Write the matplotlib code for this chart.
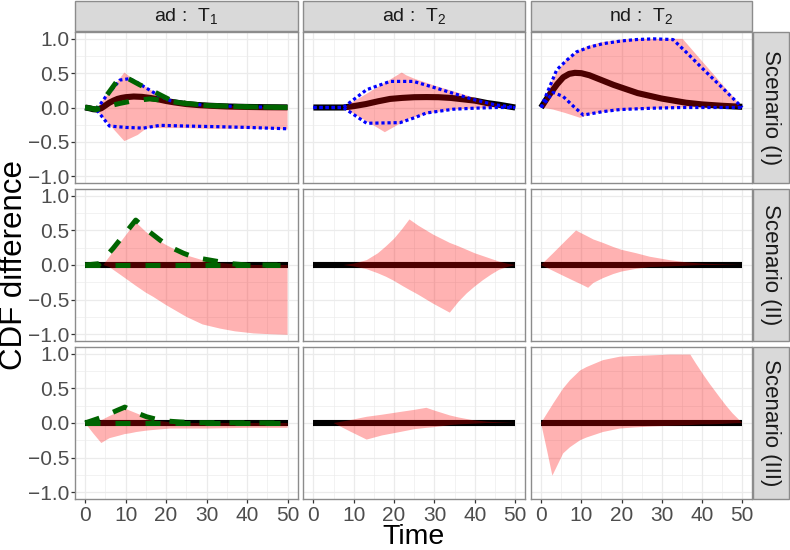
import matplotlib
matplotlib.use('Agg')
import matplotlib.pyplot as plt
from matplotlib.patches import Rectangle

plt.rcParams['font.family'] = ['Liberation Sans', 'DejaVu Sans']
plt.rcParams['mathtext.fontset'] = 'custom'
plt.rcParams['mathtext.rm'] = 'Liberation Sans'
plt.rcParams['mathtext.it'] = 'Liberation Sans:italic'
plt.rcParams['mathtext.bf'] = 'Liberation Sans:bold'

# ---------------- labels ----------------
col_labels = ['ad :  T$_1$', 'ad :  T$_2$', 'nd :  T$_2$']
row_labels = ['Scenario (I)', 'Scenario (II)', 'Scenario (III)']
x_ticks = [0, 10, 20, 30, 40, 50]
y_ticks = [-1.0, -0.5, 0.0, 0.5, 1.0]
y_tick_labels = ['\u22121.0', '\u22120.5', '0.0', '0.5', '1.0']
x_label = 'Time'
y_label = 'CDF difference'

# ---------------- Scenario (I), ad:T1 ----------------
s1_adT1_true_t = [0, 1, 2, 3, 4, 5, 6, 7, 8, 9, 10, 12, 14, 16, 18, 20, 22, 25, 28, 31, 35, 40, 45, 50]
s1_adT1_true_v = [0, -0.01, -0.025, -0.03, -0.01, 0.03, 0.07, 0.10, 0.125, 0.14, 0.15, 0.16, 0.155,
                  0.14, 0.12, 0.095, 0.075, 0.05, 0.035, 0.025, 0.015, 0.008, 0.004, 0.002]
s1_adT1_green_hi_t = [0, 1.5, 2.8, 5, 8.2, 9.6, 11, 13.5, 16, 21, 25, 30, 40, 50]
s1_adT1_green_hi_v = [0, -0.01, -0.03, 0.15, 0.41, 0.44, 0.41, 0.33, 0.26, 0.11, 0.06, 0.03, 0.01, 0]
s1_adT1_green_lo_t = [0, 2.8, 5, 8.6, 12, 16, 20, 25, 30, 40, 50]
s1_adT1_green_lo_v = [0, -0.03, 0.01, 0.06, 0.10, 0.125, 0.10, 0.055, 0.03, 0.01, 0]
s1_adT1_blue_hi_t = [0, 2.8, 5, 8.6, 11, 13, 15.2, 18, 21, 25, 30, 40, 50]
s1_adT1_blue_hi_v = [0, -0.03, 0.15, 0.40, 0.42, 0.36, 0.28, 0.18, 0.10, 0.06, 0.03, 0.01, 0]
s1_adT1_blue_lo_t = [0, 2.8, 6, 10, 14.4, 18.5, 25, 33, 40, 50]
s1_adT1_blue_lo_v = [0, -0.03, -0.27, -0.29, -0.30, -0.26, -0.27, -0.28, -0.29, -0.31]
s1_adT1_band_t = [0, 2.8, 9.7, 13, 15, 16, 20, 25, 30, 40, 50]
s1_adT1_band_hi = [0, -0.02, 0.51, 0.36, 0.30, 0.26, 0.14, 0.07, 0.04, 0.015, 0]
s1_adT1_band_lo = [0, -0.04, -0.49, -0.40, -0.31, -0.30, -0.30, -0.30, -0.31, -0.31, -0.32]

# ---------------- Scenario (I), ad:T2 ----------------
s1_adT2_true_t = [0, 7.4, 10, 13, 16, 19, 22, 25, 28, 31, 34, 37, 40, 43, 46, 50]
s1_adT2_true_v = [0, 0, 0.02, 0.05, 0.09, 0.125, 0.14, 0.15, 0.152, 0.15, 0.14, 0.12, 0.10, 0.065, 0.04, 0]
s1_adT2_blue_hi_t = [0, 7.4, 13.2, 19, 24.8, 30, 35, 40, 45, 50]
s1_adT2_blue_hi_v = [0, 0, 0.26, 0.38, 0.38, 0.29, 0.20, 0.11, 0.04, 0]
s1_adT2_blue_lo_t = [0, 7.4, 13.2, 21.5, 25, 28, 34.7, 40, 45, 50]
s1_adT2_blue_lo_v = [0, 0, -0.23, -0.22, -0.15, -0.08, -0.025, -0.01, 0, 0]
s1_adT2_band_t = [0, 7.4, 13.2, 17.7, 21.9, 23, 25, 30, 35, 40, 45, 50]
s1_adT2_band_hi = [0, 0, 0.20, 0.36, 0.51, 0.47, 0.42, 0.32, 0.23, 0.14, 0.06, 0]
s1_adT2_band_lo = [0, 0, -0.20, -0.36, -0.22, -0.18, -0.14, -0.07, -0.03, -0.01, 0, 0]

# ---------------- Scenario (I), nd:T2 ----------------
s1_ndT2_true_t = [0, 1, 2, 3, 4, 5.5, 7, 8.4, 10, 12, 15, 18, 21, 24, 27, 30, 33, 36, 40, 45, 50]
s1_ndT2_true_v = [0, 0.09, 0.18, 0.26, 0.34, 0.44, 0.49, 0.505, 0.50, 0.47, 0.40, 0.33, 0.27, 0.21,
                  0.17, 0.13, 0.10, 0.07, 0.045, 0.025, 0.01]
s1_ndT2_blue_hi_t = [0, 3.9, 6.4, 8.8, 12, 15.4, 20, 23.7, 28, 32.8, 36, 40, 45, 50]
s1_ndT2_blue_hi_v = [0, 0.55, 0.69, 0.81, 0.88, 0.93, 0.97, 0.99, 1.0, 0.99, 0.81, 0.575, 0.29, 0]
s1_ndT2_blue_lo_t = [0, 3, 5.5, 8, 10.5, 15.4, 19.6, 27.8, 35, 50]
s1_ndT2_blue_lo_v = [0, 0.22, 0.16, 0.02, -0.11, -0.06, -0.03, -0.01, 0, 0]
s1_ndT2_band_t = [0, 3, 6, 9.7, 12, 15, 20, 25, 30, 35.2, 40, 45, 50]
s1_ndT2_band_hi = [0, 0.42, 0.68, 0.84, 0.90, 0.95, 0.99, 1.0, 1.0, 1.0, 0.675, 0.34, 0]
s1_ndT2_band_lo = [0, -0.03, -0.08, -0.15, -0.10, -0.07, -0.04, -0.02, -0.01, 0, 0, 0, 0]

# ---------------- Scenario (II), ad:T1 ----------------
s2_adT1_green_hi_t = [0, 3.6, 6.9, 9.5, 12.5, 15, 18.5, 21, 24.3, 27, 30.9, 35.8, 40, 50]
s2_adT1_green_hi_v = [0, 0.02, 0.24, 0.43, 0.65, 0.52, 0.36, 0.26, 0.17, 0.11, 0.07, 0.02, 0, 0]
s2_adT1_band_t = [0, 4.5, 6, 9.4, 12.5, 15, 16.8, 20, 25, 29, 33.3, 37, 41.6, 45, 50]
s2_adT1_band_hi = [0, 0, 0.12, 0.38, 0.62, 0.48, 0.40, 0.29, 0.14, 0.07, 0.03, 0.01, 0, 0, 0]
s2_adT1_band_lo = [0, 0, -0.03, -0.17, -0.30, -0.40, -0.46, -0.58, -0.75, -0.86, -0.92, -0.96, -0.99, -1.0, -1.01]

# ---------------- Scenario (II), ad:T2 ----------------
s2_adT2_band_t = [0, 7.4, 10, 13.2, 16, 18, 20, 22, 23.8, 26, 29.7, 33.8, 36, 38, 40, 42, 44, 46, 48, 50]
s2_adT2_band_hi = [0, 0, 0.02, 0.07, 0.17, 0.27, 0.38, 0.52, 0.66, 0.57, 0.44, 0.32, 0.27, 0.22,
                   0.17, 0.13, 0.09, 0.05, 0.02, 0]
s2_adT2_band_lo = [0, 0, -0.02, -0.06, -0.12, -0.17, -0.23, -0.30, -0.36, -0.43, -0.56, -0.69, -0.53,
                   -0.41, -0.31, -0.22, -0.14, -0.07, -0.03, 0]

# ---------------- Scenario (II), nd:T2 ----------------
s2_ndT2_band_t = [0, 3, 6, 8.7, 10, 11.7, 13, 15.4, 18, 20, 23.7, 27, 32, 36, 40, 45, 50]
s2_ndT2_band_hi = [0, 0.17, 0.345, 0.50, 0.46, 0.41, 0.37, 0.32, 0.26, 0.22, 0.17, 0.12, 0.07, 0.04, 0.02, 0.01, 0]
s2_ndT2_band_lo = [0, -0.085, -0.17, -0.245, -0.28, -0.33, -0.26, -0.19, -0.13, -0.095, -0.055, -0.03,
                   -0.02, -0.01, 0, 0, 0]

# ---------------- Scenario (III), ad:T1 ----------------
s3_adT1_green_hi_t = [0, 4, 7.8, 9.8, 11.5, 13, 15.2, 18.5, 21, 23.4, 27, 50]
s3_adT1_green_hi_v = [0, 0.08, 0.18, 0.23, 0.18, 0.14, 0.09, 0.04, 0.025, 0.015, 0.005, 0]
s3_adT1_band_t = [0, 2, 4, 6, 8.6, 9.8, 11, 12.7, 15.2, 17, 21, 25, 30, 40, 50]
s3_adT1_band_hi = [0, 0, 0.04, 0.10, 0.17, 0.21, 0.18, 0.14, 0.08, 0.04, 0.01, 0, 0, 0, 0]
s3_adT1_band_lo = [0, -0.15, -0.29, -0.22, -0.18, -0.16, -0.15, -0.13, -0.11, -0.10, -0.08, -0.08,
                   -0.08, -0.07, -0.07]

# ---------------- Scenario (III), ad:T2 ----------------
s3_adT2_band_t = [0, 5, 9, 13.2, 17, 21.5, 25, 28, 30, 33.8, 36, 39.6, 43, 46, 50]
s3_adT2_band_hi = [0, 0, 0.04, 0.09, 0.12, 0.16, 0.19, 0.22, 0.18, 0.11, 0.08, 0.04, 0.02, 0.01, 0]
s3_adT2_band_lo = [0, 0, -0.12, -0.24, -0.18, -0.13, -0.09, -0.07, -0.06, -0.03, -0.02, -0.01, 0, 0, 0]

# ---------------- Scenario (III), nd:T2 ----------------
s3_ndT2_band_t = [0, 1.5, 2.8, 3, 5.5, 7.2, 9.7, 11.3, 15.4, 19.6, 23, 27.8, 32, 37.1, 38.5, 40.2,
                  42, 44.3, 46, 47.6, 50]
s3_ndT2_band_hi = [0, 0.14, 0.26, 0.28, 0.50, 0.62, 0.76, 0.81, 0.91, 0.96, 0.97, 0.98, 0.99, 0.99,
                   0.86, 0.71, 0.56, 0.38, 0.25, 0.14, 0]
s3_ndT2_band_lo = [0, -0.40, -0.76, -0.74, -0.44, -0.35, -0.25, -0.21, -0.13, -0.08, -0.065, -0.05,
                   -0.04, -0.03, -0.025, -0.02, -0.02, -0.015, -0.01, -0.005, 0]

# zero reference line for scenarios II and III
zero_t = [0, 50]
zero_v = [0, 0]

# ---------------- panel table ----------------
panels = {
    (0, 0): dict(true=(s1_adT1_true_t, s1_adT1_true_v),
                 band=(s1_adT1_band_t, s1_adT1_band_lo, s1_adT1_band_hi),
                 blue=[(s1_adT1_blue_hi_t, s1_adT1_blue_hi_v), (s1_adT1_blue_lo_t, s1_adT1_blue_lo_v)],
                 green=[(s1_adT1_green_hi_t, s1_adT1_green_hi_v), (s1_adT1_green_lo_t, s1_adT1_green_lo_v)]),
    (0, 1): dict(true=(s1_adT2_true_t, s1_adT2_true_v),
                 band=(s1_adT2_band_t, s1_adT2_band_lo, s1_adT2_band_hi),
                 blue=[(s1_adT2_blue_hi_t, s1_adT2_blue_hi_v), (s1_adT2_blue_lo_t, s1_adT2_blue_lo_v)],
                 green=[]),
    (0, 2): dict(true=(s1_ndT2_true_t, s1_ndT2_true_v),
                 band=(s1_ndT2_band_t, s1_ndT2_band_lo, s1_ndT2_band_hi),
                 blue=[(s1_ndT2_blue_hi_t, s1_ndT2_blue_hi_v), (s1_ndT2_blue_lo_t, s1_ndT2_blue_lo_v)],
                 green=[]),
    (1, 0): dict(true=(zero_t, zero_v),
                 band=(s2_adT1_band_t, s2_adT1_band_lo, s2_adT1_band_hi),
                 blue=[],
                 green=[(s2_adT1_green_hi_t, s2_adT1_green_hi_v), (zero_t, zero_v)]),
    (1, 1): dict(true=(zero_t, zero_v),
                 band=(s2_adT2_band_t, s2_adT2_band_lo, s2_adT2_band_hi), blue=[], green=[]),
    (1, 2): dict(true=(zero_t, zero_v),
                 band=(s2_ndT2_band_t, s2_ndT2_band_lo, s2_ndT2_band_hi), blue=[], green=[]),
    (2, 0): dict(true=(zero_t, zero_v),
                 band=(s3_adT1_band_t, s3_adT1_band_lo, s3_adT1_band_hi),
                 blue=[],
                 green=[(s3_adT1_green_hi_t, s3_adT1_green_hi_v), (zero_t, zero_v)]),
    (2, 1): dict(true=(zero_t, zero_v),
                 band=(s3_adT2_band_t, s3_adT2_band_lo, s3_adT2_band_hi), blue=[], green=[]),
    (2, 2): dict(true=(zero_t, zero_v),
                 band=(s3_ndT2_band_t, s3_ndT2_band_lo, s3_ndT2_band_hi), blue=[], green=[]),
}

# ---------------- layout (pixels) ----------------
W, H = 790, 550
col_left = [75, 303.3, 531]
col_right = [297.7, 525.3, 752.3]
row_top = [32, 189, 347]
row_bot = [183, 341, 499]
border_col = '#8C8C8C'
grid_col = '#EBEBEB'

fig = plt.figure(figsize=(W / 100, H / 100), dpi=100)

for r in range(3):
    for c in range(3):
        ax = fig.add_axes([col_left[c] / W, 1 - row_bot[r] / H,
                           (col_right[c] - col_left[c]) / W, (row_bot[r] - row_top[r]) / H])
        p = panels[(r, c)]
        ax.plot(p['true'][0], p['true'][1], color='black', lw=4.4, solid_capstyle='butt', zorder=2)
        bt, blo, bhi = p['band']
        ax.fill_between(bt, blo, bhi, facecolor='red', alpha=0.3, lw=0, zorder=3)
        for t, v in p['blue']:
            ax.plot(t, v, color='#0000FF', lw=2.3, linestyle=(0, (1, 0.9)),
                    dash_capstyle='butt', zorder=4)
        for t, v in p['green']:
            ax.plot(t, v, color='#006400', lw=3.6, linestyle=(0, (3, 3)),
                    dash_capstyle='butt', zorder=5)
        ax.set_xlim(-2.5, 52.5)
        ax.set_ylim(-1.1, 1.1)
        ax.set_xticks(x_ticks)
        ax.set_xticks([5, 15, 25, 35, 45], minor=True)
        ax.set_yticks(y_ticks)
        ax.set_yticks([-0.75, -0.25, 0.25, 0.75], minor=True)
        ax.grid(True, which='major', color=grid_col, lw=0.9, zorder=0)
        ax.grid(True, which='minor', color=grid_col, lw=0.45, zorder=0)
        ax.set_axisbelow(True)
        for s in ax.spines.values():
            s.set_color(border_col)
            s.set_linewidth(1.0)
        ax.tick_params(which='minor', length=0)
        ax.tick_params(which='major', length=3.2, width=0.9, color='#333333',
                       labelsize=15, labelcolor='#4D4D4D', pad=0.6)
        ax.tick_params(axis='x', which='major', pad=1.6)
        if c == 0:
            ax.set_yticklabels(y_tick_labels)
        else:
            ax.tick_params(axis='y', which='major', length=0, labelleft=False)
        if r == 2:
            ax.set_xticklabels([str(v) for v in x_ticks])
        else:
            ax.tick_params(axis='x', which='major', length=0, labelbottom=False)

# ---------------- strips ----------------
strip_fill = '#D9D9D9'
for c in range(3):
    x0 = col_left[c]
    rect = Rectangle((x0 / W, 1 - 31 / H), (col_right[c] - x0) / W, 30 / H,
                     transform=fig.transFigure, facecolor=strip_fill, edgecolor=border_col, lw=1.0)
    fig.add_artist(rect)
    fig.text((x0 + col_right[c]) / 2 / W, 1 - 16 / H, col_labels[c], ha='center', va='center',
             fontsize=14, color='#1A1A1A')
for r in range(3):
    rect = Rectangle((753 / W, 1 - row_bot[r] / H), 36 / W, (row_bot[r] - row_top[r]) / H,
                     transform=fig.transFigure, facecolor=strip_fill, edgecolor=border_col, lw=1.0)
    fig.add_artist(rect)
    fig.text(771 / W, 1 - (row_top[r] + row_bot[r]) / 2 / H, row_labels[r], ha='center', va='center',
             rotation=-90, fontsize=16, color='#1A1A1A')

# ---------------- axis titles ----------------
fig.text((col_left[0] + col_right[2]) / 2 / W, 1 - 544.5 / H, x_label, ha='center', va='baseline',
         fontsize=20.5, color='black')
fig.text(22 / W, 1 - (row_top[0] + row_bot[2]) / 2 / H, y_label, ha='center', va='baseline',
         rotation=90, rotation_mode='anchor', fontsize=22.5, color='black')

fig.savefig('out.png', dpi=100)
